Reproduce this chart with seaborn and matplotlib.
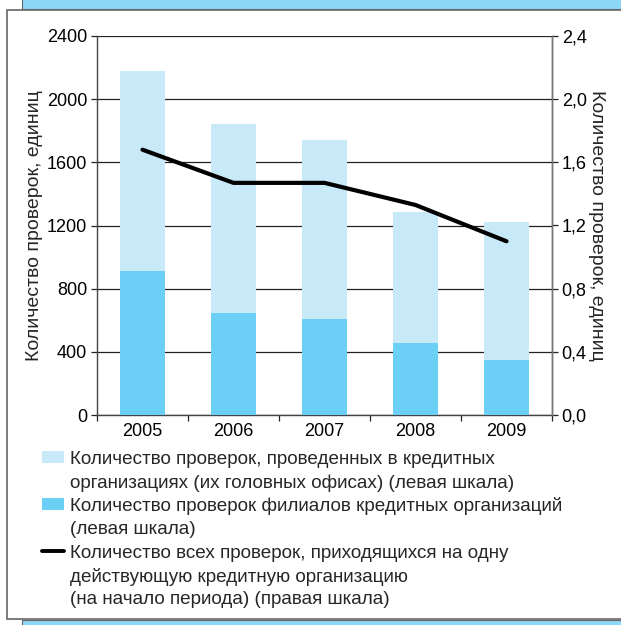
import numpy as np
import pandas as pd
import matplotlib
matplotlib.use('Agg')
import matplotlib.pyplot as plt
import seaborn as sns
from matplotlib.patches import Rectangle
from matplotlib.lines import Line2D
from matplotlib.ticker import FuncFormatter, FixedLocator

# данные
years = ["2005", "2006", "2007", "2008", "2009"]
branches = [915, 648, 610, 458, 350]          # проверки филиалов (левая шкала)
head_offices = [1265, 1192, 1130, 827, 870]   # проверки головных офисов (левая шкала)
per_org = [1.68, 1.47, 1.47, 1.33, 1.10]      # проверок на одну КО (правая шкала)

light = "#C7E9F8"
dark = "#6CCFF6"
band = "#8DD8F7"

df = pd.DataFrame({"year": years, "branches": branches, "heads": head_offices})
df["total"] = df["branches"] + df["heads"]

sns.set_theme(style="white")
plt.rcParams['font.family'] = ['Liberation Sans', 'DejaVu Sans']

fig = plt.figure(figsize=(6.21, 6.25), dpi=100)
W, H = 621.0, 625.0

# рамка и синие полосы
fig.patches.append(Rectangle((0.0354, 0.986), 1.0, 0.02, transform=fig.transFigure,
                             facecolor=band, edgecolor="#666", lw=0.8, zorder=0))
fig.patches.append(Rectangle((0.0354, -0.01), 1.0, 0.018, transform=fig.transFigure,
                             facecolor=band, edgecolor="#666", lw=0.8, zorder=0))
fig.patches.append(Rectangle((0.0113, 0.0096), 1.0, 0.9744, transform=fig.transFigure,
                             facecolor="white", edgecolor="#666", lw=1.2, zorder=1))

ax = fig.add_axes([97 / W, 1 - 415 / H, 455 / W, 379 / H])
ax.set_zorder(2)
ax.patch.set_alpha(0)

sns.barplot(data=df, x="year", y="total", color=light, width=0.5, ax=ax,
            saturation=1, linewidth=0, zorder=2)
sns.barplot(data=df, x="year", y="branches", color=dark, width=0.5, ax=ax,
            saturation=1, linewidth=0, zorder=3)

ax.set_xlim(-0.5, 4.5)
ax.set_ylim(0, 2400)
ax.set_yticks(np.arange(0, 2401, 400))
ax.yaxis.grid(True, color="#222", lw=0.9)
ax.set_axisbelow(True)
ax.xaxis.set_minor_locator(FixedLocator(np.arange(-0.5, 4.6, 1)))
ax.tick_params(axis="x", which="major", length=0, labelsize=13, pad=6, colors="black")
ax.tick_params(axis="x", which="minor", length=4, width=0.9, color="#222", direction="out",
               bottom=True)
ax.tick_params(axis="y", length=4, width=0.9, color="#222", direction="out", left=True,
               labelsize=13, pad=3, colors="black")
ax.set_xlabel("")
ax.set_ylabel("Количество проверок, единиц", fontsize=14, labelpad=3)
for s in ["left", "bottom", "right"]:
    ax.spines[s].set_color("#444")
    ax.spines[s].set_linewidth(1.0)
ax.spines["top"].set_visible(False)

ax2 = ax.twinx()
sns.lineplot(x=np.arange(len(years)), y=per_org, color="black", lw=3.0, ax=ax2,
             solid_capstyle="round", solid_joinstyle="round")
ax2.set_ylim(0, 2.4)
ax2.set_yticks(np.arange(0, 2.41, 0.4))
ax2.yaxis.set_major_formatter(FuncFormatter(lambda v, p: f"{v:.1f}".replace(".", ",")))
ax2.tick_params(axis="y", length=4, width=0.9, color="#222", direction="out", right=True,
                labelsize=13, pad=3, colors="black")
ax2.set_ylabel("Количество проверок, единиц", fontsize=14, rotation=-90, labelpad=13)
for s in ["left", "bottom", "top"]:
    ax2.spines[s].set_visible(False)
ax2.spines["right"].set_color("#777")
ax2.spines["right"].set_linewidth(1.0)

# легенда: ключи и строки подписи
fs = 13.6
keys = [("patch", light, 457), ("patch", dark, 504), ("line", "black", 551)]
legend_lines = [
    "Количество проверок, проведенных в кредитных",
    "организациях (их головных офисах) (левая шкала)",
    "Количество проверок филиалов кредитных организаций",
    "(левая шкала)",
    "Количество всех проверок, приходящихся на одну",
    "действующую кредитную организацию",
    "(на начало периода) (правая шкала)",
]
line_y = [457, 481, 504, 527, 551, 575, 598]
for kind, col, ypx in keys:
    yc = 1 - ypx / H
    if kind == "patch":
        fig.patches.append(Rectangle((42 / W, yc - 6 / H), 22 / W, 12 / H,
                                     transform=fig.transFigure, facecolor=col,
                                     edgecolor="none", zorder=3))
    else:
        fig.lines.append(Line2D([42 / W, 64 / W], [yc, yc], transform=fig.transFigure,
                                color=col, lw=2.8, zorder=3))
for txt, ypx in zip(legend_lines, line_y):
    fig.text(70 / W, 1 - ypx / H, txt, fontsize=fs, va="center_baseline", ha="left",
             zorder=3)

fig.savefig("out.png", dpi=100)
